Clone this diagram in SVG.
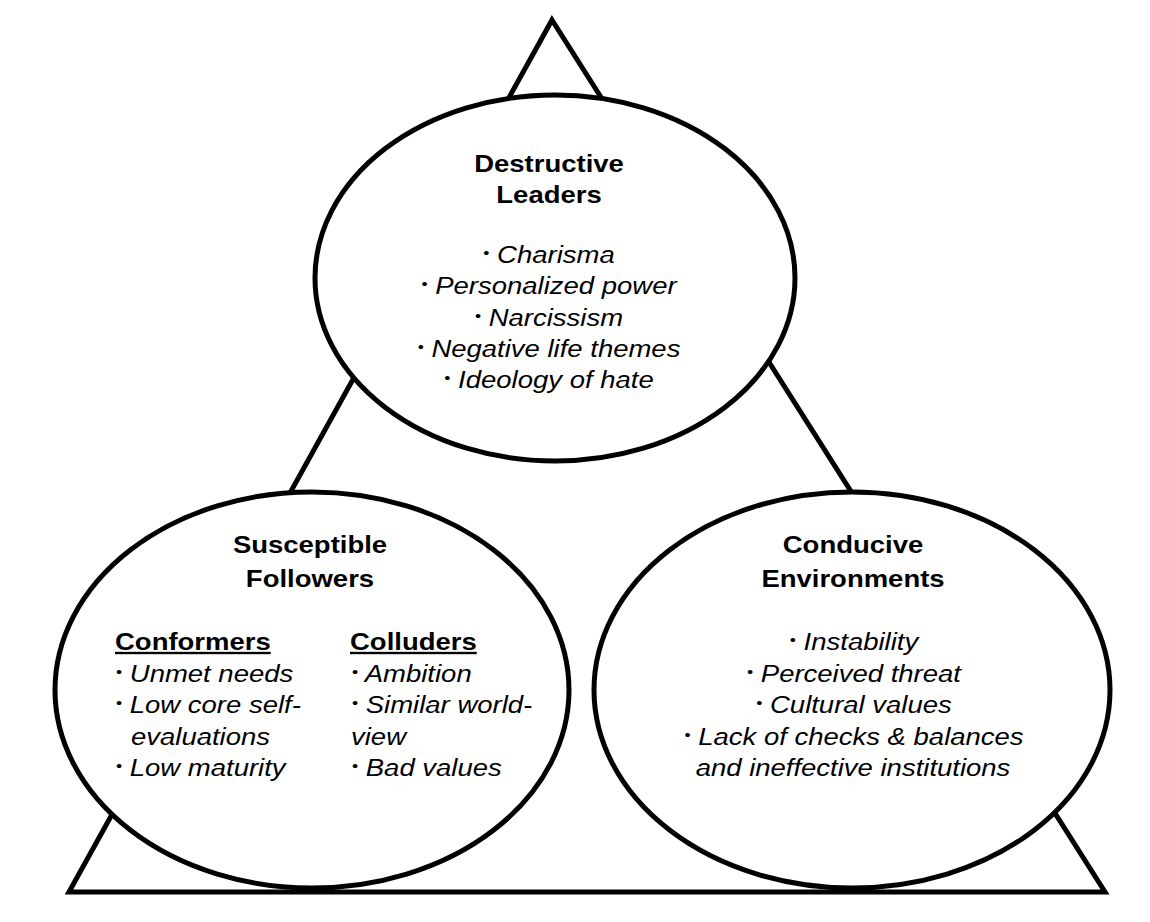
<svg xmlns="http://www.w3.org/2000/svg" width="1150" height="922" viewBox="0 0 1150 922">
<style>
.shape{fill:#fff;stroke:#000;stroke-width:5}
.tri{fill:none;stroke:#000;stroke-width:5;stroke-linejoin:miter}
text{font-family:"Liberation Sans",Arial,Helvetica,sans-serif;font-size:23.5px;fill:#000}
.h{font-weight:bold;text-anchor:middle}
.hl{font-weight:bold;text-decoration:underline}
.i{font-style:italic}
.m{text-anchor:middle}
.b{font-style:normal;font-size:15px}
</style>
<rect width="1150" height="922" fill="#fff"/>
<g id="connectors">
<path class="tri" d="M552,20 L1105,892 L69,892 Z"/>
</g>
<g id="leaders">
<ellipse class="shape" cx="555" cy="278" rx="240" ry="183"/>
<text class="h" transform="translate(549,0) scale(1.17,1)" x="0" y="172">Destructive</text>
<text class="h" transform="translate(549,0) scale(1.17,1)" x="0" y="203">Leaders</text>
<text class="i m" transform="translate(549,0) scale(1.17,1)" x="0" y="263"><tspan class="b" baseline-shift="5">•</tspan> Charisma</text>
<text class="i m" transform="translate(549,0) scale(1.17,1)" x="0" y="294"><tspan class="b" baseline-shift="5">•</tspan> Personalized power</text>
<text class="i m" transform="translate(549,0) scale(1.17,1)" x="0" y="326"><tspan class="b" baseline-shift="5">•</tspan> Narcissism</text>
<text class="i m" transform="translate(549,0) scale(1.17,1)" x="0" y="357"><tspan class="b" baseline-shift="5">•</tspan> Negative life themes</text>
<text class="i m" transform="translate(549,0) scale(1.17,1)" x="0" y="388"><tspan class="b" baseline-shift="5">•</tspan> Ideology of hate</text>
</g>
<g id="followers">
<ellipse class="shape" cx="312" cy="690" rx="257" ry="198"/>
<text class="h" transform="translate(310,0) scale(1.17,1)" x="0" y="553">Susceptible</text>
<text class="h" transform="translate(310,0) scale(1.17,1)" x="0" y="587">Followers</text>
<text class="hl" transform="translate(115,0) scale(1.17,1)" x="0" y="650">Conformers</text>
<text class="i" transform="translate(116,0) scale(1.17,1)" x="0" y="682"><tspan class="b" baseline-shift="5">•</tspan> Unmet needs</text>
<text class="i" transform="translate(116,0) scale(1.17,1)" x="0" y="713"><tspan class="b" baseline-shift="5">•</tspan> Low core self-</text>
<text class="i" transform="translate(131,0) scale(1.17,1)" x="0" y="745">evaluations</text>
<text class="i" transform="translate(116,0) scale(1.17,1)" x="0" y="776"><tspan class="b" baseline-shift="5">•</tspan> Low maturity</text>
<text class="hl" transform="translate(350,0) scale(1.17,1)" x="0" y="650">Colluders</text>
<text class="i" transform="translate(352,0) scale(1.17,1)" x="0" y="682"><tspan class="b" baseline-shift="5">•</tspan> Ambition</text>
<text class="i" transform="translate(352,0) scale(1.17,1)" x="0" y="713"><tspan class="b" baseline-shift="5">•</tspan> Similar world-</text>
<text class="i" transform="translate(351,0) scale(1.17,1)" x="0" y="745">view</text>
<text class="i" transform="translate(352,0) scale(1.17,1)" x="0" y="776"><tspan class="b" baseline-shift="5">•</tspan> Bad values</text>
</g>
<g id="environments">
<ellipse class="shape" cx="852" cy="690" rx="258" ry="198"/>
<text class="h" transform="translate(853,0) scale(1.17,1)" x="0" y="553">Conducive</text>
<text class="h" transform="translate(853,0) scale(1.17,1)" x="0" y="587">Environments</text>
<text class="i m" transform="translate(854,0) scale(1.17,1)" x="0" y="650"><tspan class="b" baseline-shift="5">•</tspan> Instability</text>
<text class="i m" transform="translate(854,0) scale(1.17,1)" x="0" y="682"><tspan class="b" baseline-shift="5">•</tspan> Perceived threat</text>
<text class="i m" transform="translate(854,0) scale(1.17,1)" x="0" y="713"><tspan class="b" baseline-shift="5">•</tspan> Cultural values</text>
<text class="i m" transform="translate(854,0) scale(1.17,1)" x="0" y="745"><tspan class="b" baseline-shift="5">•</tspan> Lack of checks &amp; balances</text>
<text class="i m" transform="translate(853,0) scale(1.17,1)" x="0" y="776">and ineffective institutions</text>
</g>
</svg>
